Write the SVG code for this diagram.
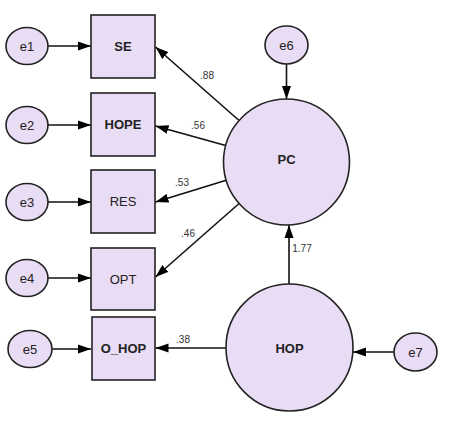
<svg xmlns="http://www.w3.org/2000/svg" width="450" height="432" viewBox="0 0 450 432">
<defs>
<marker id="ah" markerUnits="userSpaceOnUse" markerWidth="14" markerHeight="10" refX="13" refY="5" orient="auto">
<path d="M0,0.5 L13,5 L0,9.5 Z" fill="#000"/>
</marker>
<style>
.nd{fill:#E9DCF5;stroke:#222;stroke-width:1.6}
.t{font-family:"Liberation Sans",Arial,sans-serif;font-size:13px;fill:#222;text-anchor:middle;dominant-baseline:central}
.b{font-weight:bold}
.c line{stroke:#111;stroke-width:1.6;marker-end:url(#ah)}
.w{font-family:"Liberation Sans",Arial,sans-serif;font-size:10px;fill:#333;text-anchor:middle;dominant-baseline:central}
</style>
</defs>
<rect width="450" height="432" fill="#fff"/>
<g class="c" id="connectors">
<line x1="48" y1="46" x2="91" y2="46"/>
<line x1="48" y1="125" x2="91" y2="125"/>
<line x1="48" y1="202" x2="91" y2="202"/>
<line x1="48" y1="278" x2="91" y2="278"/>
<line x1="52" y1="349" x2="91" y2="349"/>
<line x1="239.1" y1="120.5" x2="155.5" y2="47"/>
<line x1="225.7" y1="145.4" x2="155.5" y2="126"/>
<line x1="226.2" y1="180.3" x2="155.5" y2="202"/>
<line x1="239.1" y1="203.5" x2="155.5" y2="277"/>
<line x1="286.5" y1="64" x2="286.5" y2="99"/>
<line x1="289" y1="284" x2="289" y2="225"/>
<line x1="394" y1="352" x2="353" y2="352"/>
<line x1="226" y1="348" x2="155.5" y2="348"/>
</g>
<g id="e1"><ellipse class="nd" cx="27" cy="46" rx="21" ry="18.5"/><text class="t" x="27" y="46">e1</text></g>
<g id="e2"><ellipse class="nd" cx="27" cy="125" rx="21" ry="18.5"/><text class="t" x="27" y="125">e2</text></g>
<g id="e3"><ellipse class="nd" cx="27" cy="202" rx="21" ry="18.5"/><text class="t" x="27" y="202">e3</text></g>
<g id="e4"><ellipse class="nd" cx="27" cy="278" rx="21" ry="18.5"/><text class="t" x="27" y="278">e4</text></g>
<g id="e5"><ellipse class="nd" cx="30" cy="349" rx="22" ry="18.5"/><text class="t" x="30" y="349">e5</text></g>
<g id="SE"><rect class="nd" x="91" y="15" width="64" height="63"/><text class="t b" x="123" y="46.5">SE</text></g>
<g id="HOPE"><rect class="nd" x="91" y="93" width="64" height="63"/><text class="t b" x="123" y="124.5">HOPE</text></g>
<g id="RES"><rect class="nd" x="91" y="170" width="64" height="63"/><text class="t" x="123" y="201.5">RES</text></g>
<g id="OPT"><rect class="nd" x="91" y="248" width="64" height="62"/><text class="t" x="123" y="279">OPT</text></g>
<g id="O_HOP"><rect class="nd" x="92" y="317" width="63" height="63"/><text class="t b" x="123.5" y="348.5">O_HOP</text></g>
<g id="e6"><ellipse class="nd" cx="286.5" cy="45" rx="21.5" ry="19"/><text class="t" x="286.5" y="45">e6</text></g>
<g id="PC"><circle class="nd" cx="286.5" cy="162" r="63"/><text class="t b" x="286.5" y="159">PC</text></g>
<g id="HOP"><circle class="nd" cx="289.5" cy="347.5" r="63.5"/><text class="t b" x="289.5" y="348">HOP</text></g>
<g id="e7"><ellipse class="nd" cx="415.5" cy="352" rx="21.5" ry="19"/><text class="t" x="415.5" y="352">e7</text></g>
<g id="labels">
<text class="w" x="207" y="75">.88</text>
<text class="w" x="198" y="125">.56</text>
<text class="w" x="182" y="182">.53</text>
<text class="w" x="188" y="233">.46</text>
<text class="w" x="302" y="248">1.77</text>
<text class="w" x="183" y="339">.38</text>
</g>
</svg>
